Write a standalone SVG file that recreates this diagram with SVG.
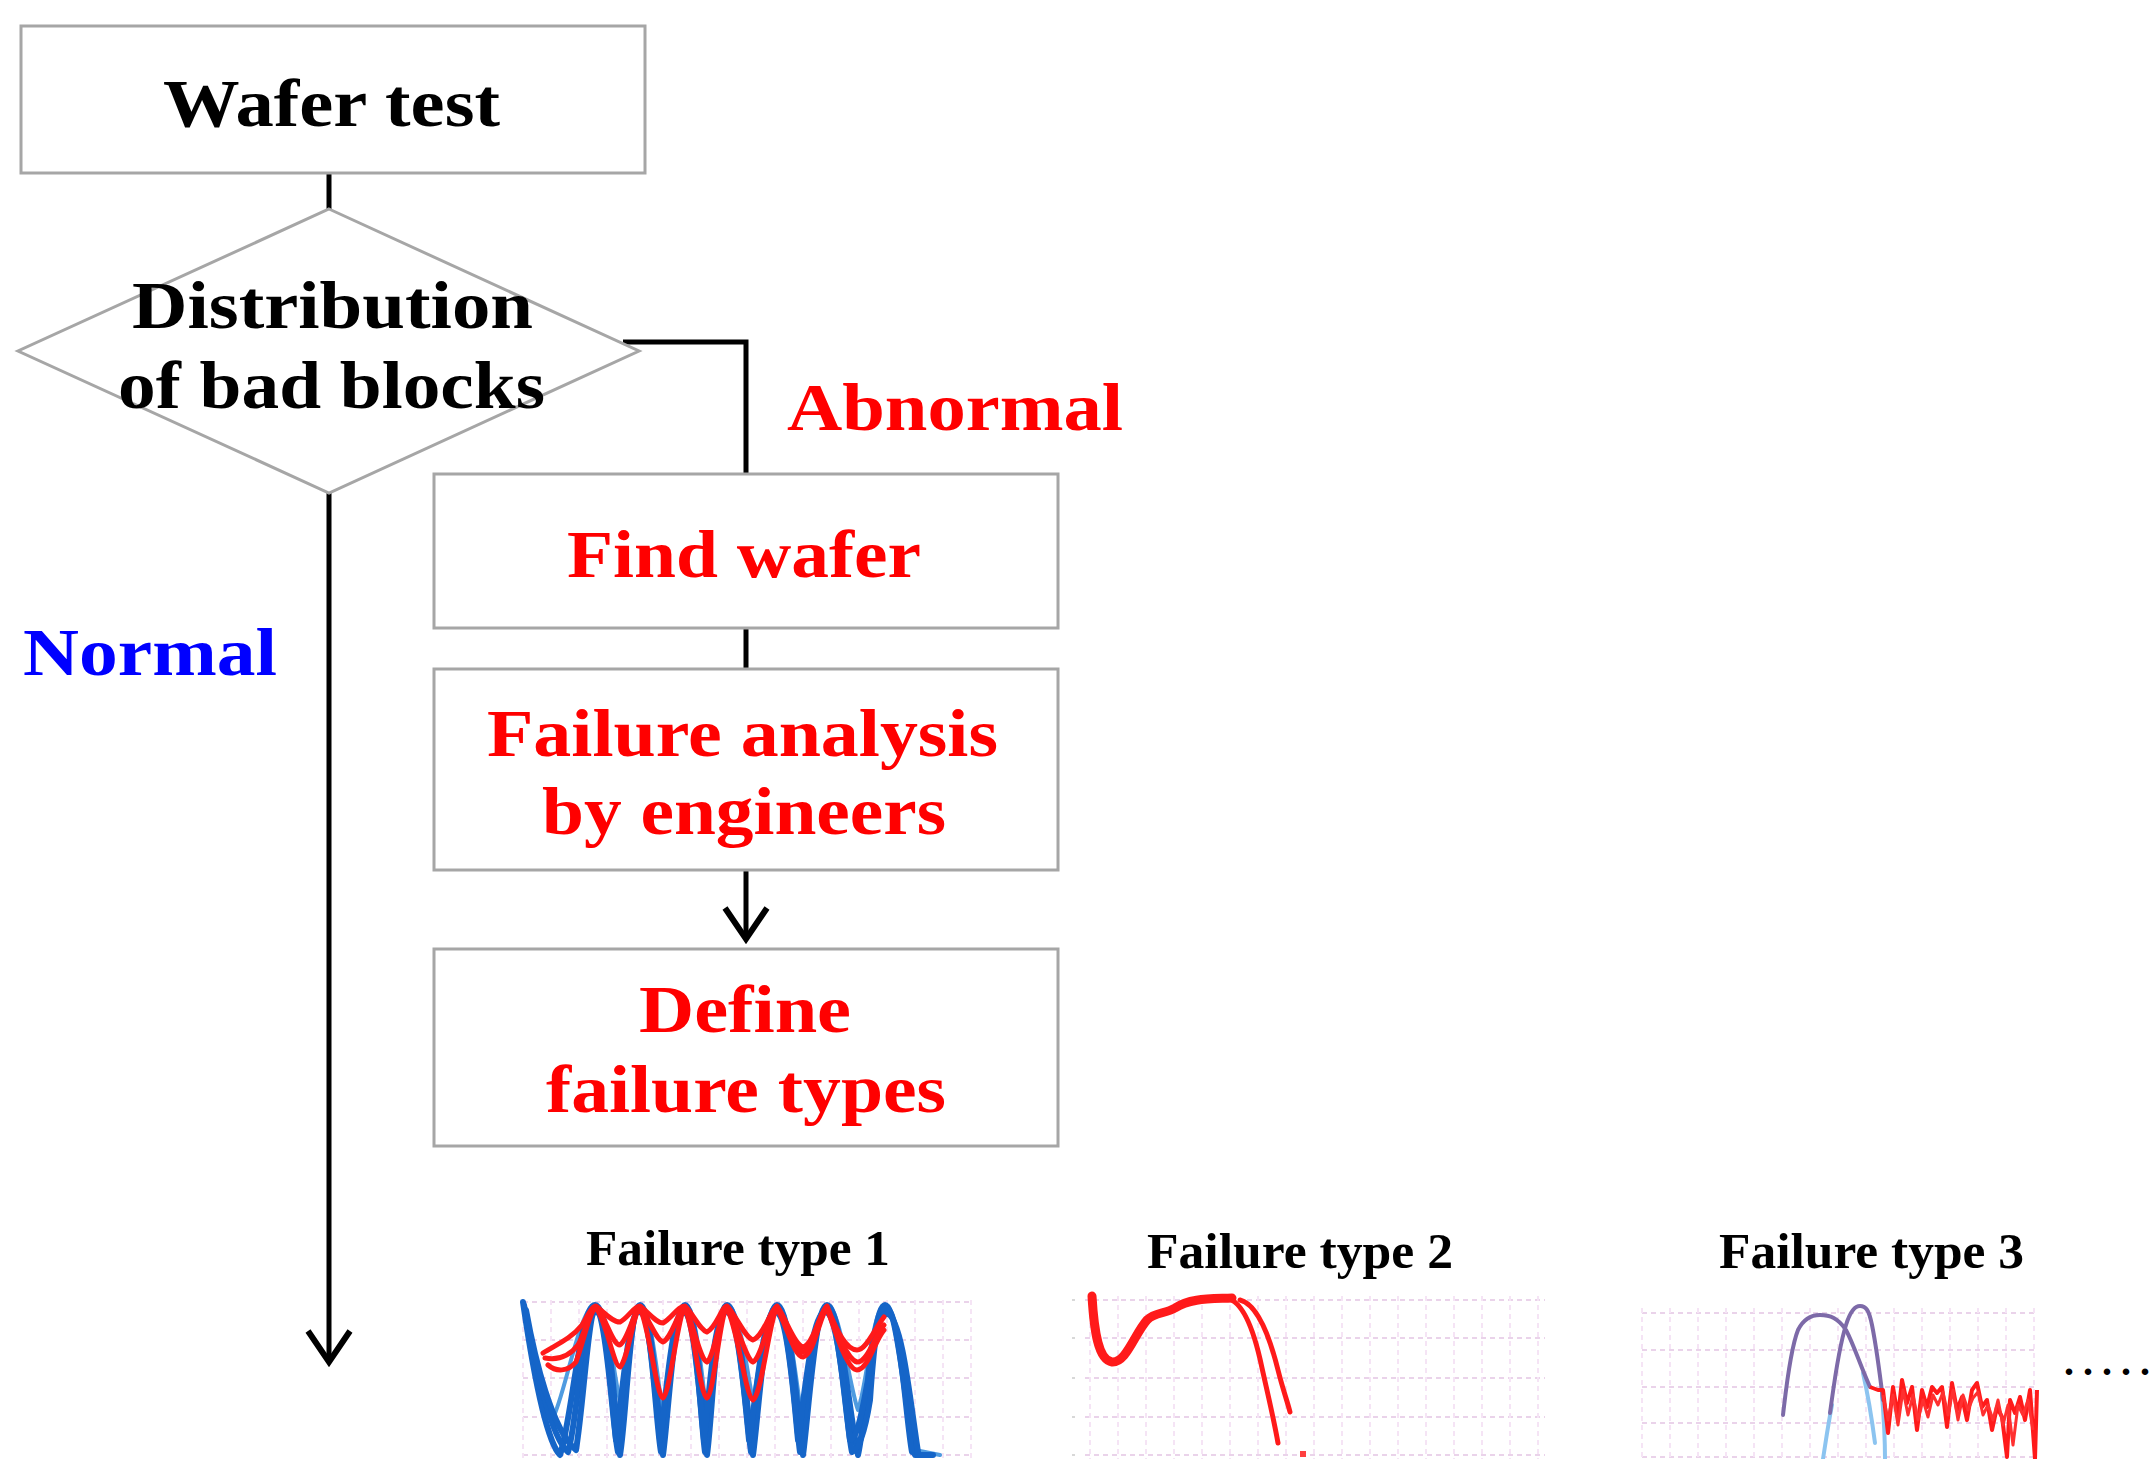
<svg xmlns="http://www.w3.org/2000/svg" width="2154" height="1459" viewBox="0 0 2154 1459">
<style>
  .box { fill: #ffffff; stroke: #a6a6a6; stroke-width: 3; }
  .t { font-family: "Liberation Serif", "Times New Roman", serif; font-weight: bold; text-anchor: start; }
  .big { font-size: 68px; }
  .small { font-size: 50px; }
  .blk { fill: #000000; }
  .red { fill: #ff0000; }
  .blue { fill: #0000ff; }
  .conn { fill: none; stroke: #000000; stroke-width: 5; }
  .gh { stroke: #ead3ea; stroke-width: 2; stroke-dasharray: 5 4; fill: none; }
  .gv { stroke: #f5e4f5; stroke-width: 2; stroke-dasharray: 5 4; fill: none; }
  .cb { fill: none; stroke: #1565c8; stroke-width: 6; stroke-linejoin: round; stroke-linecap: round; }
  .cbl { fill: none; stroke: #4f9be0; stroke-width: 4; stroke-linejoin: round; stroke-linecap: round; }
  .cr { fill: none; stroke: #ff1a1a; stroke-width: 5; stroke-linejoin: round; stroke-linecap: round; }
  .cp { fill: none; stroke: #7d6aa8; stroke-width: 4; stroke-linejoin: round; stroke-linecap: round; }
  .clb { fill: none; stroke: #8cc4f0; stroke-width: 4; stroke-linejoin: round; stroke-linecap: round; }
</style>
<defs>
  <marker id="chev" markerUnits="userSpaceOnUse" viewBox="-40 -26 46 52" refX="0" refY="0" markerWidth="46" markerHeight="52" orient="auto" overflow="visible">
    <path d="M -31 -21 L 0 0 L -31 21" fill="none" stroke="#000000" stroke-width="6" stroke-linejoin="miter"/>
  </marker>
</defs>
<rect width="2154" height="1459" fill="#ffffff"/>

<g id="connectors">
  <line class="conn" x1="329" y1="173" x2="329" y2="209"/>
  <path class="conn" d="M 623 342 H 746 V 474"/>
  <line class="conn" x1="746" y1="628" x2="746" y2="669"/>
  <line class="conn" x1="746" y1="870" x2="746" y2="939" marker-end="url(#chev)"/>
  <line class="conn" x1="329" y1="493" x2="329" y2="1362" marker-end="url(#chev)"/>
</g>

<g id="node-wafer-test">
  <rect class="box" x="21" y="26" width="624" height="147"/>
  <text class="t big blk" x="163" y="126" textLength="337" lengthAdjust="spacingAndGlyphs">Wafer test</text>
</g>

<g id="node-distribution">
  <polygon class="box" points="329,209 639,351 329,493 18,351"/>
  <text class="t big blk" x="132" y="328" textLength="401" lengthAdjust="spacingAndGlyphs">Distribution</text>
  <text class="t big blk" x="118" y="408" textLength="427" lengthAdjust="spacingAndGlyphs">of bad blocks</text>
</g>

<g id="label-abnormal">
  <text class="t big red" x="787" y="430" textLength="336" lengthAdjust="spacingAndGlyphs">Abnormal</text>
</g>

<g id="label-normal">
  <text class="t big blue" x="23" y="675" textLength="254" lengthAdjust="spacingAndGlyphs">Normal</text>
</g>

<g id="node-find-wafer">
  <rect class="box" x="434" y="474" width="624" height="154"/>
  <text class="t big red" x="567" y="577" textLength="354" lengthAdjust="spacingAndGlyphs">Find wafer</text>
</g>

<g id="node-failure-analysis">
  <rect class="box" x="434" y="669" width="624" height="201"/>
  <text class="t big red" x="487" y="756" textLength="511" lengthAdjust="spacingAndGlyphs">Failure analysis</text>
  <text class="t big red" x="542" y="834" textLength="404" lengthAdjust="spacingAndGlyphs">by engineers</text>
</g>

<g id="node-define">
  <rect class="box" x="434" y="949" width="624" height="197"/>
  <text class="t big red" x="639" y="1032" textLength="212" lengthAdjust="spacingAndGlyphs">Define</text>
  <text class="t big red" x="546" y="1112" textLength="400" lengthAdjust="spacingAndGlyphs">failure types</text>
</g>

<g id="failure-type-1">
  <text class="t small blk" x="586" y="1265" textLength="304" lengthAdjust="spacingAndGlyphs">Failure type 1</text>
  <g>
    <path class="gh" d="M523 1302 H973 M523 1340 H973 M523 1378 H973 M523 1417 H973 M523 1455 H973"/>
    <path class="gv" d="M523 1300 V1459 M551 1300 V1459 M579 1300 V1459 M607 1300 V1459 M635 1300 V1459 M663 1300 V1459 M691 1300 V1459 M719 1300 V1459 M747 1300 V1459 M775 1300 V1459 M803 1300 V1459 M831 1300 V1459 M859 1300 V1459 M887 1300 V1459 M915 1300 V1459 M943 1300 V1459 M971 1300 V1459"/>
  </g>
  <path class="cbl" d="M523 1302 C528 1340 540 1400 552 1420 C564 1400 580 1305 595 1305 C608 1305 614 1380 620 1400 C626 1380 630 1305 640 1305 C652 1305 658 1390 663 1410 C668 1390 674 1305 685 1305 C697 1305 703 1390 707 1415 C712 1390 716 1305 727 1305 C740 1305 748 1380 753 1400 C758 1380 765 1305 777 1305 C790 1305 798 1400 803 1425 C808 1400 815 1305 827 1305 C840 1305 850 1390 858 1410 C866 1390 873 1305 885 1305 C898 1305 908 1420 915 1450 L940 1455"/>
  <path class="cb" d="M523 1302 C530 1350 545 1440 560 1455 C572 1420 580 1305 595 1305 C610 1305 615 1420 620 1455 C626 1420 630 1305 640 1305 C652 1305 658 1420 663 1455 C668 1420 674 1305 685 1305 C697 1305 703 1420 707 1455 C712 1420 716 1305 727 1305 C740 1305 748 1420 753 1455 C758 1420 765 1305 777 1305 C790 1305 798 1420 803 1455 C808 1420 815 1305 827 1305 C840 1305 850 1420 858 1455 C866 1420 873 1305 885 1305 C898 1305 908 1430 915 1455 L933 1455"/>
  <path class="cb" d="M524 1305 C532 1345 548 1435 568 1452 C578 1420 583 1308 594 1308 C607 1308 612 1425 618 1452 C624 1425 629 1309 640 1309 C651 1309 656 1425 661 1452 C667 1425 673 1309 684 1309 C696 1309 701 1425 705 1452 C710 1425 715 1309 727 1309 C739 1309 747 1425 751 1452 C757 1425 764 1309 776 1309 C789 1309 796 1425 800 1452 C806 1425 814 1309 826 1309 C839 1309 846 1425 852 1452 C860 1450 866 1425 870 1400 C874 1340 878 1308 887 1308 C900 1312 906 1420 912 1452"/>
  <path class="cb" d="M526 1310 C535 1360 552 1430 576 1450 C584 1400 588 1312 596 1312 C606 1312 612 1400 616 1440 C622 1400 628 1312 639 1312 C650 1312 656 1400 660 1440 C666 1400 672 1312 683 1312 C694 1312 700 1400 704 1440 C709 1400 714 1312 726 1312 C738 1312 745 1400 749 1440 C756 1400 763 1312 775 1312 C788 1312 794 1400 798 1440 C804 1400 812 1312 825 1312 C838 1312 845 1400 850 1440 C858 1440 864 1400 868 1380 C872 1335 878 1312 888 1314 C902 1320 910 1400 918 1452"/>
  <path class="cr" d="M543 1353 C555 1345 570 1340 582 1325 C588 1315 592 1306 596 1306 C604 1312 612 1322 620 1322 C628 1318 634 1306 640 1306 C648 1312 656 1323 663 1323 C672 1318 678 1306 685 1306 C694 1315 700 1330 707 1332 C716 1328 722 1306 727 1306 C736 1315 745 1338 753 1340 C764 1336 770 1310 777 1306 C786 1318 794 1345 803 1347 C814 1345 820 1310 827 1306 C836 1330 846 1350 857 1350 C866 1350 874 1330 884 1317"/>
  <path class="cr" d="M548 1365 C556 1372 568 1372 576 1362 C584 1340 590 1310 596 1308 C606 1320 614 1367 620 1367 C628 1360 634 1310 640 1308 C650 1330 656 1395 663 1398 C670 1395 678 1312 685 1308 C694 1330 700 1395 707 1398 C714 1395 720 1312 727 1308 C738 1330 746 1398 753 1400 C762 1395 770 1315 777 1308 C788 1330 795 1357 803 1357 C814 1355 820 1315 827 1308 C838 1340 848 1370 857 1370 C868 1370 875 1340 884 1330"/>
  <path class="cr" d="M545 1358 C556 1360 568 1358 578 1345 C586 1330 590 1310 596 1308 C606 1316 612 1345 620 1345 C628 1340 634 1310 640 1308 C650 1320 656 1340 663 1342 C672 1338 678 1310 685 1308 C694 1325 700 1360 707 1362 C714 1358 720 1312 727 1308 C738 1325 746 1360 753 1362 C762 1358 770 1312 777 1308 C788 1325 795 1350 803 1352 C814 1350 820 1312 827 1308 C838 1335 848 1360 857 1362 C868 1362 875 1335 884 1325"/>
</g>

<g id="failure-type-2">
  <text class="t small blk" x="1147" y="1268" textLength="306" lengthAdjust="spacingAndGlyphs">Failure type 2</text>
  <g>
    <path class="gh" d="M1085 1300 H1545 M1085 1338 H1545 M1085 1378 H1545 M1085 1417 H1545 M1085 1455 H1545"/>
    <path class="gv" d="M1090 1296 V1459 M1118 1296 V1459 M1146 1296 V1459 M1174 1296 V1459 M1202 1296 V1459 M1230 1296 V1459 M1258 1296 V1459 M1286 1296 V1459 M1314 1296 V1459 M1342 1296 V1459 M1370 1296 V1459 M1398 1296 V1459 M1426 1296 V1459 M1454 1296 V1459 M1482 1296 V1459 M1510 1296 V1459 M1538 1296 V1459"/>
    <path d="M1072 1300 h3 M1072 1338 h3 M1072 1378 h3 M1072 1417 h3 M1072 1455 h3" stroke="#d8d8d8" stroke-width="2"/>
  </g>
  <path fill="none" stroke="#ff1a1a" stroke-width="9" stroke-linejoin="round" stroke-linecap="round" d="M1092 1296 C1094 1330 1098 1360 1112 1362 C1126 1363 1134 1335 1147 1320 C1155 1312 1165 1314 1175 1308 C1190 1298 1210 1299 1232 1298"/>
  <path class="cr" d="M1226 1298 C1240 1300 1252 1320 1262 1368 C1268 1395 1274 1420 1278 1443"/>
  <path class="cr" d="M1240 1300 C1256 1304 1268 1330 1278 1370 C1283 1390 1287 1400 1290 1412"/>
  <rect x="1300" y="1451" width="6" height="6" fill="#ff4040"/>
</g>

<g id="failure-type-3">
  <text class="t small blk" x="1719" y="1268" textLength="305" lengthAdjust="spacingAndGlyphs">Failure type 3</text>
  <g>
    <path class="gh" d="M1642 1313 H2037 M1642 1350 H2037 M1642 1387 H2037 M1642 1423 H2037 M1642 1457 H2037"/>
    <path class="gv" d="M1642 1308 V1459 M1670 1308 V1459 M1698 1308 V1459 M1726 1308 V1459 M1754 1308 V1459 M1782 1308 V1459 M1810 1308 V1459 M1838 1308 V1459 M1866 1308 V1459 M1894 1308 V1459 M1922 1308 V1459 M1950 1308 V1459 M1978 1308 V1459 M2006 1308 V1459 M2034 1308 V1459"/>
  </g>
  <path class="clb" d="M1823 1459 C1826 1440 1828 1425 1832 1405"/>
  <path class="clb" d="M1863 1373 C1868 1395 1872 1420 1875 1443"/>
  <path class="clb" d="M1882 1395 C1884 1420 1885 1440 1885 1459"/>
  <path class="cp" d="M1783 1415 C1786 1390 1790 1350 1798 1330 C1804 1318 1812 1315 1820 1315 C1830 1315 1838 1318 1846 1330 C1854 1345 1860 1365 1870 1387"/>
  <path class="cp" d="M1830 1413 C1834 1385 1838 1350 1846 1325 C1850 1312 1855 1306 1860 1306 C1866 1306 1869 1310 1872 1325 C1876 1345 1880 1375 1883 1400"/>
  <path fill="none" stroke="#ff1a1a" stroke-width="4" stroke-linejoin="round" d="M1870 1387 L1878 1390 L1883 1390 L1888 1433 L1893 1387 L1898 1417 L1902 1380 L1907 1403 L1912 1387 L1917 1430 L1922 1390 L1927 1407 L1932 1387 L1937 1393 L1942 1387 L1947 1427 L1952 1383 L1957 1410 L1962 1397 L1967 1420 L1972 1390 L1977 1383 L1982 1407 L1987 1400 L1992 1430 L1997 1407 L2002 1417 L2007 1457 L2010 1400 L2015 1413 L2020 1397 L2025 1420 L2030 1390 L2035 1459 L2037 1390"/>
  <path fill="none" stroke="#ff3030" stroke-width="3" stroke-linejoin="round" d="M1883 1395 L1888 1420 L1893 1395 L1898 1425 L1903 1390 L1908 1415 L1913 1395 L1918 1420 L1923 1400 L1928 1417 L1933 1395 L1938 1405 L1943 1392 L1948 1415 L1953 1390 L1958 1420 L1963 1395 L1968 1410 L1973 1398 L1978 1392 L1983 1415 L1988 1405 L1993 1420 L1998 1400 L2003 1425 L2008 1405 L2013 1445 L2018 1405 L2023 1415 L2028 1400 L2033 1430"/>
</g>

<g id="ellipsis">
  <text class="t blk" x="2064" y="1375" font-size="40" textLength="86" lengthAdjust="spacing">.....</text>
</g>
</svg>
